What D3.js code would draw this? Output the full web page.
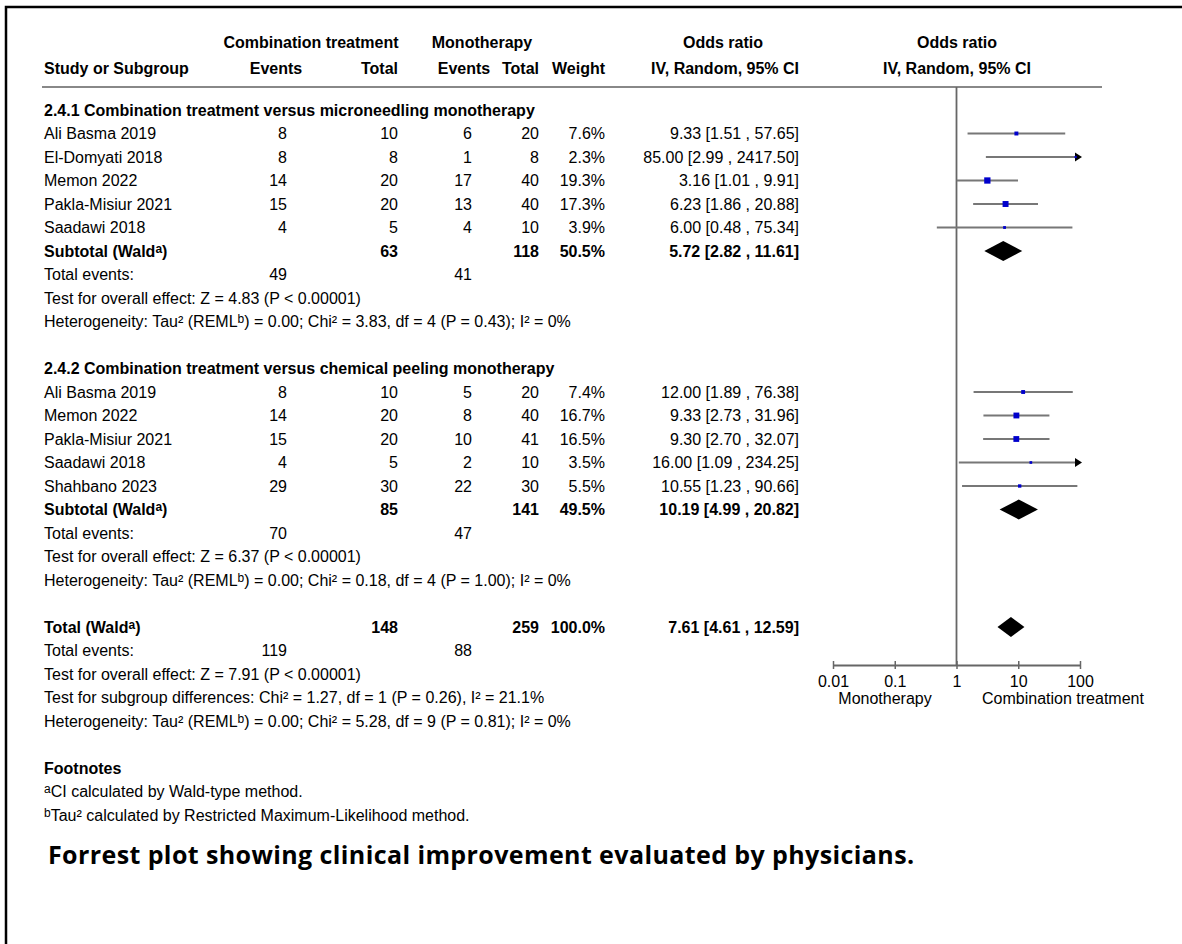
<!DOCTYPE html>
<html>
<head>
<meta charset="utf-8">
<script src="https://cdn.jsdelivr.net/npm/d3@7"></script>
<style>
  body { margin: 0; background: #fff; }
  svg text { font-family: "Liberation Sans", Arial, Helvetica, sans-serif; fill: #000; }
</style>
</head>
<body>
<div id="chart"></div>
<script>
// ---- data ----
const groupTitles = [
    "2.4.1 Combination treatment versus microneedling monotherapy",
    "2.4.2 Combination treatment versus chemical peeling monotherapy"
];
const studyNames = [
    ["Ali Basma 2019", "El-Domyati 2018", "Memon 2022", "Pakla-Misiur 2021", "Saadawi 2018"],
    ["Ali Basma 2019", "Memon 2022", "Pakla-Misiur 2021", "Saadawi 2018", "Shahbano 2023"]
];
const combEvents = [[8, 8, 14, 15, 4], [8, 14, 15, 4, 29]];
const combTotal = [[10, 8, 20, 20, 5], [10, 20, 20, 5, 30]];
const monoEvents = [[6, 1, 17, 13, 4], [5, 8, 10, 2, 22]];
const monoTotal = [[20, 8, 40, 40, 10], [20, 40, 41, 10, 30]];
const weights = [[7.6, 2.3, 19.3, 17.3, 3.9], [7.4, 16.7, 16.5, 3.5, 5.5]];
const oddsRatio = [[9.33, 85.00, 3.16, 6.23, 6.00], [12.00, 9.33, 9.30, 16.00, 10.55]];
const ciLow = [[1.51, 2.99, 1.01, 1.86, 0.48], [1.89, 2.73, 2.70, 1.09, 1.23]];
const ciHigh = [[57.65, 2417.50, 9.91, 20.88, 75.34], [76.38, 31.96, 32.07, 234.25, 90.66]];

const subtotals = [
    {ct: 63, mt: 118, w: "50.5%", or: 5.72, lo: 2.82, hi: 11.61, ce: 49, me: 41,
     z: "Test for overall effect: Z = 4.83 (P < 0.00001)",
     het: ["Heterogeneity: Tau² (REML", "b", ") = 0.00; Chi² = 3.83, df = 4 (P = 0.43); I² = 0%"]},
    {ct: 85, mt: 141, w: "49.5%", or: 10.19, lo: 4.99, hi: 20.82, ce: 70, me: 47,
     z: "Test for overall effect: Z = 6.37 (P < 0.00001)",
     het: ["Heterogeneity: Tau² (REML", "b", ") = 0.00; Chi² = 0.18, df = 4 (P = 1.00); I² = 0%"]}
];
const overall = {ct: 148, mt: 259, w: "100.0%", or: 7.61, lo: 4.61, hi: 12.59, ce: 119, me: 88};
const overallNotes = [
    ["Test for overall effect: Z = 7.91 (P < 0.00001)"],
    ["Test for subgroup differences: Chi² = 1.27, df = 1 (P = 0.26), I² = 21.1%"],
    ["Heterogeneity: Tau² (REML", "b", ") = 0.00; Chi² = 5.28, df = 9 (P = 0.81); I² = 0%"]
];
const footnotes = [
    ["a", "CI calculated by Wald-type method."],
    ["b", "Tau² calculated by Restricted Maximum-Likelihood method."]
];
const axisTicks = [0.01, 0.1, 1, 10, 100];
const axisTickLabels = ["0.01", "0.1", "1", "10", "100"];
const favourLabels = ["Monotherapy", "Combination treatment"];
const caption = "Forrest plot showing clinical improvement evaluated by physicians.";

// ---- layout ----
const width = 1182, height = 944;
const fontSize = 16;
const rowH = 23.5;
const firstRowY = 110;
const textX = 44;
const col = {ce: 287, ct: 398, me: 472, mt: 539, w: 605, ci: 799};

const svg = d3.select("#chart").append("svg")
    .attr("width", width)
    .attr("height", height);

// frame (top + left edges visible)
svg.append("rect")
    .attr("x", 6).attr("y", 7)
    .attr("width", width + 20).attr("height", height + 20)
    .attr("fill", "none")
    .attr("stroke", "#000")
    .attr("stroke-width", 2.5);

const rowY = i => firstRowY + i * rowH;

const x = d3.scaleLog().domain([0.01, 100]).range([833, 1080]);
const boxSize = d3.scaleSqrt().domain([0, 20]).range([0, 6.4]);

function txt(xp, y, s, opts = {}) {
    const t = svg.append("text")
        .attr("x", xp).attr("y", y)
        .attr("dy", "0.35em")
        .attr("font-size", opts.size || fontSize)
        .attr("font-weight", opts.bold ? "bold" : "normal")
        .attr("text-anchor", opts.anchor || "start");
    if (Array.isArray(s)) {
        // [plain, superscript, plain]
        s.forEach((part, k) => {
            const sp = t.append("tspan").text(part);
            if (k % 2 === 1) sp.attr("font-size", fontSize * 0.75).attr("baseline-shift", "35%");
        });
    } else {
        t.text(s);
    }
    return t;
}

const fmtCI = (o, l, h) => `${o.toFixed(2)} [${l.toFixed(2)} , ${h.toFixed(2)}]`;

// ---- header ----
txt(311, 42, "Combination treatment", {bold: true, anchor: "middle"});
txt(482, 42, "Monotherapy", {bold: true, anchor: "middle"});
txt(723, 42, "Odds ratio", {bold: true, anchor: "middle"});
txt(957, 42, "Odds ratio", {bold: true, anchor: "middle"});
txt(textX, 68, "Study or Subgroup", {bold: true});
txt(276, 68, "Events", {bold: true, anchor: "middle"});
txt(col.ct, 68, "Total", {bold: true, anchor: "end"});
txt(464, 68, "Events", {bold: true, anchor: "middle"});
txt(col.mt, 68, "Total", {bold: true, anchor: "end"});
txt(col.w, 68, "Weight", {bold: true, anchor: "end"});
txt(col.ci, 68, "IV, Random, 95% CI", {bold: true, anchor: "end"});
txt(957, 68, "IV, Random, 95% CI", {bold: true, anchor: "middle"});

svg.append("line")
    .attr("x1", 42).attr("x2", 1102)
    .attr("y1", 87).attr("y2", 87)
    .attr("stroke", "#888").attr("stroke-width", 2);

// line of no effect
svg.append("line")
    .attr("x1", x(1)).attr("x2", x(1))
    .attr("y1", 87).attr("y2", 665)
    .attr("stroke", "#666").attr("stroke-width", 1.8);

function diamond(y, o, l, h) {
    svg.append("path")
        .attr("d", `M${x(l)},${y} L${x(o)},${y - 10} L${x(h)},${y} L${x(o)},${y + 10} Z`)
        .attr("fill", "#000");
}

function studyRow(y, g, k) {
    txt(textX, y, studyNames[g][k]);
    txt(col.ce, y, combEvents[g][k], {anchor: "end"});
    txt(col.ct, y, combTotal[g][k], {anchor: "end"});
    txt(col.me, y, monoEvents[g][k], {anchor: "end"});
    txt(col.mt, y, monoTotal[g][k], {anchor: "end"});
    txt(col.w, y, weights[g][k].toFixed(1) + "%", {anchor: "end"});
    txt(col.ci, y, fmtCI(oddsRatio[g][k], ciLow[g][k], ciHigh[g][k]), {anchor: "end"});

    const [d0, d1] = x.domain();
    const lo = Math.max(ciLow[g][k], d0), hi = Math.min(ciHigh[g][k], d1);
    svg.append("line")
        .attr("x1", x(lo)).attr("x2", x(hi))
        .attr("y1", y).attr("y2", y)
        .attr("stroke", "#777").attr("stroke-width", 2);
    if (ciHigh[g][k] > d1) {
        const ax = x(d1);
        svg.append("path")
            .attr("d", `M${ax + 2},${y} L${ax - 5},${y - 4.5} L${ax - 5},${y + 4.5} Z`)
            .attr("fill", "#000");
    }
    if (oddsRatio[g][k] <= d1) {
        const s = boxSize(weights[g][k]);
        svg.append("rect")
            .attr("x", x(oddsRatio[g][k]) - s / 2).attr("y", y - s / 2)
            .attr("width", s).attr("height", s)
            .attr("fill", "#0000cc");
    }
}

// ---- subgroups ----
let r = 0;
groupTitles.forEach((title, g) => {
    txt(textX, rowY(r), title, {bold: true});
    r++;
    studyNames[g].forEach((_, k) => { studyRow(rowY(r), g, k); r++; });
    const s = subtotals[g];
    let y = rowY(r);
    txt(textX, y, ["Subtotal (Wald", "a", ")"], {bold: true});
    txt(col.ct, y, s.ct, {bold: true, anchor: "end"});
    txt(col.mt, y, s.mt, {bold: true, anchor: "end"});
    txt(col.w, y, s.w, {bold: true, anchor: "end"});
    txt(col.ci, y, fmtCI(s.or, s.lo, s.hi), {bold: true, anchor: "end"});
    diamond(y, s.or, s.lo, s.hi);
    r++;
    y = rowY(r);
    txt(textX, y, "Total events:");
    txt(col.ce, y, s.ce, {anchor: "end"});
    txt(col.me, y, s.me, {anchor: "end"});
    r++;
    txt(textX, rowY(r), s.z); r++;
    txt(textX, rowY(r), s.het); r++;
    r++; // blank
});

// ---- overall ----
let y = rowY(r);
txt(textX, y, ["Total (Wald", "a", ")"], {bold: true});
txt(col.ct, y, overall.ct, {bold: true, anchor: "end"});
txt(col.mt, y, overall.mt, {bold: true, anchor: "end"});
txt(col.w, y, overall.w, {bold: true, anchor: "end"});
txt(col.ci, y, fmtCI(overall.or, overall.lo, overall.hi), {bold: true, anchor: "end"});
diamond(y, overall.or, overall.lo, overall.hi);
r++;
y = rowY(r);
txt(textX, y, "Total events:");
txt(col.ce, y, overall.ce, {anchor: "end"});
txt(col.me, y, overall.me, {anchor: "end"});
r++;
overallNotes.forEach(n => { txt(textX, rowY(r), n.length === 1 ? n[0] : n); r++; });
r++;

// ---- footnotes ----
txt(textX, rowY(r), "Footnotes", {bold: true}); r++;
footnotes.forEach(f => { txt(textX, rowY(r), ["", f[0], f[1]]); r++; });

// ---- axis ----
const axisY = 665;
const axisG = svg.append("g")
    .attr("transform", `translate(0,${axisY})`)
    .call(d3.axisBottom(x).tickValues(axisTicks)
        .tickFormat((d, i) => axisTickLabels[i]).tickSizeOuter(0));
axisG.select(".domain").attr("stroke", "#666").attr("stroke-width", 1.8);
axisG.selectAll(".tick line").attr("y1", -4).attr("y2", 4)
    .attr("stroke", "#666").attr("stroke-width", 1.5);
axisG.selectAll(".tick text")
    .attr("y", 16).attr("dy", "0.35em")
    .attr("font-size", fontSize)
    .attr("font-family", "Liberation Sans, Arial, sans-serif")
    .attr("fill", "#000");
txt(885, 698, favourLabels[0], {anchor: "middle"});
txt(1063, 698, favourLabels[1], {anchor: "middle"});

// ---- caption ----
svg.append("text")
    .attr("x", 48).attr("y", 864)
    .attr("font-size", 25)
    .attr("font-weight", "bold")
    .attr("letter-spacing", 0.4)
    .style("font-family", "'Open Sans', 'Noto Sans', sans-serif")
    .text(caption);
</script>
</body>
</html>
